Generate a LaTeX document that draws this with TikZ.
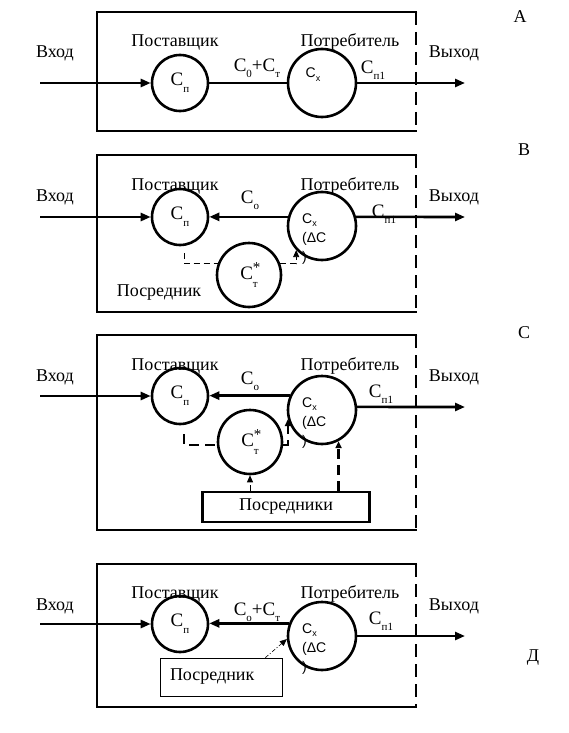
\documentclass[tikz,border=0pt]{standalone}
\usepackage{fontspec}
\setmainfont{Liberation Serif}
\newfontfamily\arialf{Liberation Sans}
\usetikzlibrary{arrows.meta, positioning}

% lowered index after a letter
\newcommand{\low}[2]{\raisebox{-#1}{\fontsize{11}{11}\selectfont #2}}
\newcommand{\lowsm}[2]{\raisebox{-#1}{\fontsize{9}{9}\selectfont #2}}
\newcommand{\Cstar}{С\rlap{\raisebox{7pt}{\fontsize{15}{15}\selectfont *}}\low{8pt}{т}}

\tikzset{
  frame/.style={line width=2.6pt},
  wire/.style={line width=2.6pt},
  flow/.style={line width=2.6pt, -{Triangle[length=10pt,width=8pt]}},
  ahead/.style={-{Triangle[length=7pt,width=6pt]}},
  link/.style={line width=0.8pt, dash pattern=on 6pt off 4pt},
  boldlink/.style={line width=2.6pt, dash pattern=on 10pt off 6pt},
  unit/.style={circle, draw, line width=2.6pt, inner sep=0pt},
  txt/.style={font=\fontsize{18}{20}\selectfont, inner sep=0pt},
  lbl/.style={font=\fontsize{19}{20}\selectfont, inner sep=0pt},
  cxtext/.style={font=\arialf\fontsize{14}{19}\selectfont, align=left, inner sep=0pt, anchor=north west}
}

\begin{document}
\begin{tikzpicture}[x=1pt, y=-1pt]
\useasboundingbox (0,0) rectangle (569,733);

% common parts of the four schemes
\foreach \p/\ya/\yb/\ly/\ty/\ny/\tg/\tx/\tgy in {a/12/131/83/53/42/A/520/17,
    b/155/312/217/197/186/B/524/150,
    c/335/530/396/377/366/C/524/333,
    d/564/707/624/606/594/Д/533/658} {
  \draw[frame] (417.3,\ya) -- (97,\ya) -- (97,\yb) -- (417.3,\yb);
  \draw[frame, dash pattern=on 13pt off 7pt] (416,\ya) -- (416,\yb);
  \node[txt] (in\p) at (55,\ty) {Вход};
  \node[txt] (out\p) at (454,\ty) {Выход};
  \node[txt] (sup\p) at (175,\ny) {Поставщик};
  \node[txt] (con\p) at (350,\ny) {Потребитель};
  \node[txt] (tag\p) at (\tx,\tgy) {\tg};
  \node[unit, minimum size=56pt, lbl] (cp\p) at (180,\ly) {С\low{7pt}{п}};
  \coordinate (src\p) at (40,\ly);
  \draw[flow] (src\p) -- (cp\p.west);
}

% A: direct flow
\node[unit, minimum size=68pt] (cxa) at (322,83) {};
\node[font=\arialf\fontsize{14}{14}\selectfont, inner sep=0pt] (cxta) at (313,75) {С\lowsm{4pt}{х}};
\coordinate (dsta) at (465,83);
\draw[wire] (cpa) -- (cxa);
\draw[flow] (cxa) -- (dsta);
\node[lbl] (fa) at (257,68) {С\low{6pt}{0}+С\low{6pt}{т}};
\node[lbl] (qa) at (373,70) {С\low{6pt}{п1}};

% B: return flow, one intermediary
\node[unit, minimum size=68pt] (cxb) at (322,226) {};
\node[cxtext] (cxtb) at (302,214) {С\lowsm{3pt}{х}\\(ΔС\\)};
\node[unit, minimum size=64pt, lbl] (ctb) at (249,275) {\Cstar};
\coordinate (dstb) at (465,217);
\draw[flow] (cxb.165) -- (cxb.165 -| cpb.east);
\draw[flow] (cxb.15) -- (dstb);
\draw[link] ([xshift=4pt,yshift=-7pt]cpb.south) |- (ctb.160);
\draw[link, ahead] (ctb.20) -| (cxb.223);
\node[lbl] (fb) at (250,200) {С\low{6pt}{о}};
\node[lbl] (qb) at (384,214) {С\low{6pt}{п1}};
\node[txt] (mb) at (159,293) {Посредник};

% C: several intermediaries
\node[unit, minimum size=68pt] (cxc) at (322,410) {};
\node[cxtext] (cxtc) at (302,398) {С\lowsm{3pt}{х}\\(ΔС\\)};
\node[unit, minimum size=64pt, lbl] (ctc) at (250,442) {\Cstar};
\node[draw, frame, txt, minimum width=167pt, minimum height=30pt] (pc) at (286,507) {Посредники};
\coordinate (dstc) at (465,407);
\draw[flow] (cxc.156) -- (cxc.156 -| cpc.east);
\draw[flow] (cxc.5) -- (dstc);
\draw[boldlink] ([xshift=4pt,yshift=-9pt]cpc.south) |- (ctc.185);
\draw[boldlink, ahead] (ctc.-5) -| (cxc.195);
\draw[link, ahead] (pc.north -| ctc.south) -- (ctc.south);
\draw[boldlink, ahead] (pc.north -| cxc.298) -- (cxc.298);
\node[lbl] (fc) at (250,381) {С\low{6pt}{о}};
\node[lbl] (qc) at (381,394) {С\low{6pt}{п1}};

% D: intermediary outside the flow
\node[unit, minimum size=68pt] (cxd) at (322,636) {};
\node[cxtext] (cxtd) at (302,624) {С\lowsm{3pt}{х}\\(ΔС\\)};
\node[draw, line width=0.6pt, txt, text width=102pt, align=left, inner sep=10pt, minimum height=38pt] (pd) at (221,677) {Посредник};
\coordinate (dstd) at (465,636);
\draw[flow] (cxd.159) -- (cxd.159 -| cpd.east);
\draw[flow] (cxd) -- (dstd);
\draw[line width=0.6pt, dash pattern=on 4pt off 2pt on 1pt off 2pt, ahead] ([xshift=-17pt]pd.north east) -- (cxd.185);
\node[lbl] (fd) at (257,612) {С\low{6pt}{о}+С\low{6pt}{т}};
\node[lbl] (qd) at (381,621) {С\low{6pt}{п1}};
\end{tikzpicture}
\end{document}
